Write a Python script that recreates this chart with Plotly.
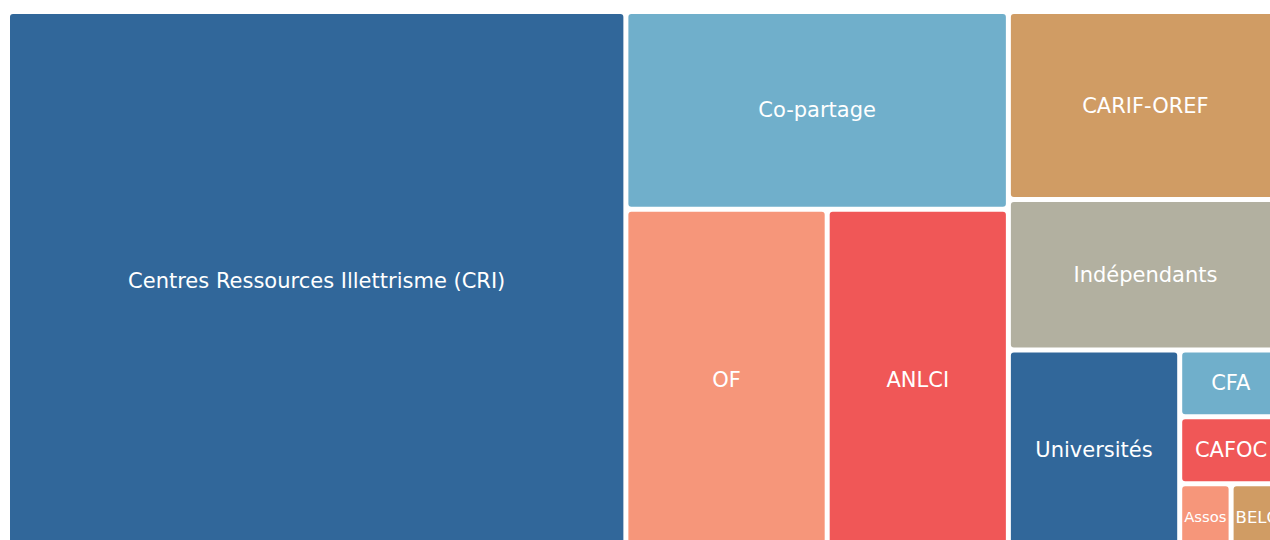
import plotly.graph_objects as go

labels = ["Centres Ressources Illettrisme (CRI)", "Co-partage", "OF", "ANLCI",
          "CARIF-OREF", "Indépendants", "Universités", "CFA", "Assos", "CAFOC", "BELC"]
parents = [""] * len(labels)
values = [97, 22, 20, 18, 15, 12, 10, 2, 1, 2, 1]
colors = ["#31679a", "#70afcb", "#f6967a", "#f05757", "#d09c64", "#b2b0a0",
          "#31679a", "#70afcb", "#f6967a", "#f05757", "#d09c64"]

fig = go.Figure(go.Treemap(
    labels=labels,
    parents=parents,
    values=values,
    sort=True,
    tiling=dict(packing="binary"),
    marker=dict(colors=colors, line=dict(color="white", width=2), cornerradius=4,
                pad=dict(t=0, l=0, r=0, b=0)),
    textinfo="label",
    textposition="middle center",
    textfont=dict(family="DejaVu Sans, sans-serif", size=21, color="white"),
    hoverinfo="label+value",
    pathbar=dict(visible=False),
))

fig.update_layout(
    width=1281, height=549,
    margin=dict(l=9, r=0, t=13, b=0),
    paper_bgcolor="white",
    showlegend=False,
)

fig.write_html(
    "out.html",
    config={"displayModeBar": False},
    post_script="document.body.style.margin='0';document.body.style.overflow='hidden';",
)
